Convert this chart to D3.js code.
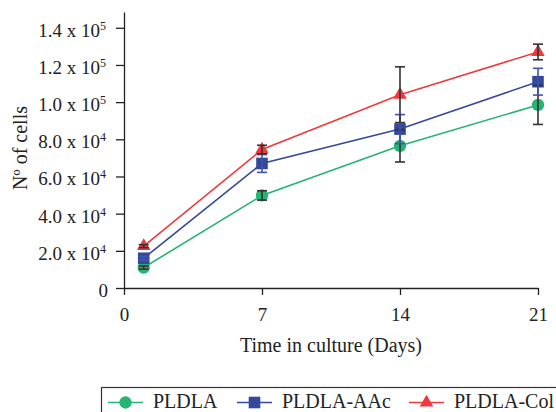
<!DOCTYPE html>
<html>
<head>
<meta charset="utf-8">
<script src="https://cdn.jsdelivr.net/npm/d3@7"></script>
<style>
  body { margin: 0; background: #fff; }
  svg { display: block; font-family: "Liberation Serif", "Times New Roman", serif; }
</style>
</head>
<body>
<div id="chart"></div>
<script>
// data
const days = [1, 7, 14, 21];
const seriesNames = ["PLDLA", "PLDLA-AAc", "PLDLA-Col"];
const pldla = [11000, 49800, 76500, 98500];
const pldlaErr = [800, 2500, 8700, 10500];
const pldlaAAc = [16000, 67000, 85500, 111000];
const pldlaAAcErr = [1000, 4800, 7800, 7200];
const pldlaCol = [22500, 74500, 104000, 127000];
const pldlaColErr = [800, 2300, 15000, 4200];
const xTicks = [0, 7, 14, 21];
const yTicks = [0, 20000, 40000, 60000, 80000, 100000, 120000, 140000];
const yTickMant = ["0", "2.0", "4.0", "6.0", "8.0", "1.0", "1.2", "1.4"];
const yTickExp = ["", "4", "4", "4", "4", "5", "5", "5"];

const width = 556, height = 412;
const svg = d3.select("#chart").append("svg")
    .attr("width", width)
    .attr("height", height);

const x = d3.scaleLinear().domain([0, 21]).range([124, 538]);
const y = d3.scaleLinear().domain([0, 148500]).range([288, 12]);

const series = [
    { name: seriesNames[0], vals: pldla, err: pldlaErr, color: "#25b472", errColor: "#333", sym: d3.symbolCircle, size: 120 },
    { name: seriesNames[1], vals: pldlaAAc, err: pldlaAAcErr, color: "#34499c", errColor: "#3f56a8", sym: d3.symbolSquare, size: 135 },
    { name: seriesNames[2], vals: pldlaCol, err: pldlaColErr, color: "#ef3a3d", errColor: "#333", sym: d3.symbolTriangle, size: 80 }
];

// axes
const xAxis = svg.append("g")
    .attr("transform", "translate(0,288)")
    .call(d3.axisBottom(x).tickValues(xTicks).tickSize(7).tickSizeOuter(0).tickPadding(13));

svg.append("g")
    .attr("transform", "translate(124,0)")
    .call(d3.axisLeft(y).tickValues(yTicks).tickSize(8).tickSizeOuter(0).tickFormat(""));

svg.selectAll(".domain, .tick line").attr("stroke", "#222").attr("stroke-width", 1.3);
xAxis.selectAll("text").attr("font-size", 19).attr("fill", "#222")
    .attr("font-family", "Liberation Serif");

// y tick labels with superscripts
yTicks.forEach((v, i) => {
    const t = svg.append("text")
        .attr("x", 106)
        .attr("y", y(v) + 9)
        .attr("text-anchor", "end")
        .attr("font-size", 19)
        .attr("fill", "#222");
    if (yTickExp[i] === "") {
        t.attr("x", 108).text(yTickMant[i]);
    } else {
        t.append("tspan").text(yTickMant[i] + " x 10");
        t.append("tspan").attr("dy", -7).attr("font-size", 12).text(yTickExp[i]);
    }
});

// axis titles
svg.append("text")
    .attr("x", 331)
    .attr("y", 352)
    .attr("text-anchor", "middle")
    .attr("font-size", 20)
    .attr("fill", "#222")
    .text("Time in culture (Days)");

svg.append("text")
    .attr("transform", "translate(27,148) rotate(-90)")
    .attr("text-anchor", "middle")
    .attr("font-size", 20)
    .attr("fill", "#222")
    .text("Nº of cells");

// lines
const line = d3.line().x((d, i) => x(days[i])).y(d => y(d));
series.forEach(s => {
    svg.append("path")
        .datum(s.vals)
        .attr("d", line)
        .attr("fill", "none")
        .attr("stroke", s.color)
        .attr("stroke-width", 1.6);
});

// markers
series.forEach(s => {
    svg.selectAll(null)
        .data(s.vals)
        .enter()
        .append("path")
        .attr("d", d3.symbol().type(s.sym).size(s.size))
        .attr("transform", (d, i) => `translate(${x(days[i])},${y(d)})`)
        .attr("fill", s.color);
});

// error bars
series.forEach(s => {
    const g = svg.append("g").attr("stroke", s.errColor).attr("stroke-width", 1.6);
    s.vals.forEach((v, i) => {
        const cx = x(days[i]);
        const top = y(v + s.err[i]), bot = y(v - s.err[i]);
        g.append("line").attr("x1", cx).attr("x2", cx).attr("y1", top).attr("y2", bot);
        g.append("line").attr("x1", cx - 5).attr("x2", cx + 5).attr("y1", top).attr("y2", top);
        g.append("line").attr("x1", cx - 5).attr("x2", cx + 5).attr("y1", bot).attr("y2", bot);
    });
});

// legend
const legend = svg.append("g");
legend.append("rect")
    .attr("x", 101.5).attr("y", 387.5)
    .attr("width", 480).attr("height", 40)
    .attr("fill", "none")
    .attr("stroke", "#333")
    .attr("stroke-width", 1.2);

const legendX = [108, 237, 409];
series.forEach((s, i) => {
    const lx = legendX[i];
    legend.append("line")
        .attr("x1", lx).attr("x2", lx + 35)
        .attr("y1", 402.5).attr("y2", 402.5)
        .attr("stroke", s.color).attr("stroke-width", 1.6);
    legend.append("path")
        .attr("d", d3.symbol().type(s.sym).size(s.size))
        .attr("transform", `translate(${lx + 17.5},402.5)`)
        .attr("fill", s.color);
    legend.append("text")
        .attr("x", lx + 45)
        .attr("y", 408)
        .attr("font-size", 20)
        .attr("fill", "#222")
        .text(s.name);
});
</script>
</body>
</html>
